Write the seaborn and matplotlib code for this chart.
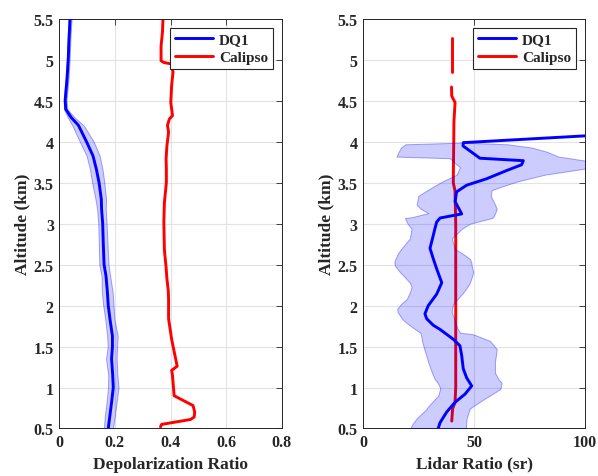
import numpy as np
import pandas as pd
import seaborn as sns
import matplotlib
matplotlib.use("Agg")
import matplotlib.pyplot as plt

# ---------------- data ----------------
# Left panel: depolarization ratio
dq1_dep_alt = [5.5, 5.26, 5.0, 4.76, 4.51, 4.4, 4.3, 4.2, 4.0, 3.83, 3.67, 3.5, 3.3, 3.18, 3.0,
               2.77, 2.5, 2.36, 2.16, 2.0, 1.84, 1.63, 1.5, 1.35, 1.15, 1.0, 0.82, 0.66, 0.5]
dq1_dep_val = [0.0385, 0.035, 0.032, 0.0276, 0.0211, 0.023, 0.042, 0.069, 0.098, 0.121, 0.133, 0.143, 0.151, 0.152, 0.156,
               0.158, 0.161, 0.168, 0.173, 0.176, 0.182, 0.191, 0.191, 0.188, 0.192, 0.194, 0.188, 0.182, 0.176]
dq1_dep_low = [0.033, 0.030, 0.027, 0.022, 0.016, 0.017, 0.030, 0.047, 0.074, 0.098, 0.110, 0.118, 0.130, 0.136, 0.140,
               0.142, 0.144, 0.152, 0.153, 0.158, 0.165, 0.172, 0.174, 0.168, 0.176, 0.175, 0.170, 0.164, 0.160]
dq1_dep_high = [0.044, 0.040, 0.037, 0.033, 0.026, 0.029, 0.054, 0.088, 0.124, 0.145, 0.155, 0.162, 0.168, 0.167, 0.170,
                0.173, 0.177, 0.183, 0.192, 0.195, 0.198, 0.210, 0.208, 0.206, 0.209, 0.213, 0.206, 0.200, 0.193]

cal_dep_alt = [5.5, 5.34, 5.17, 4.99, 4.97, 4.95, 4.85, 4.69, 4.48, 4.32, 4.28, 4.2, 4.12, 3.95, 3.79, 3.67,
               3.5, 3.26, 3.02, 2.68, 2.47, 2.33, 2.18, 2.08, 1.84, 1.59, 1.39, 1.26, 1.21, 1.15, 0.9,
               0.78, 0.70, 0.64, 0.61, 0.55, 0.52]
cal_dep_val = [0.373, 0.371, 0.366, 0.366, 0.375, 0.404, 0.409, 0.404, 0.401, 0.407, 0.396, 0.389, 0.393, 0.387, 0.384, 0.385,
               0.385, 0.378, 0.376, 0.378, 0.384, 0.387, 0.392, 0.393, 0.393, 0.404, 0.416, 0.424, 0.404, 0.407, 0.413,
               0.481, 0.487, 0.485, 0.472, 0.368, 0.364]

# Right panel: lidar ratio
dq1_lr_alt = [4.1, 3.99, 3.95, 3.83, 3.80, 3.77, 3.72, 3.65, 3.55, 3.47, 3.39, 3.27, 3.12, 3.07, 3.02, 2.94,
              2.85, 2.70, 2.57, 2.45, 2.28, 2.14, 2.0, 1.9, 1.84, 1.76, 1.71, 1.59, 1.51, 1.39, 1.23, 1.12,
              1.02, 0.92, 0.82, 0.70, 0.57, 0.5]
dq1_lr_val = [118, 45.1, 45.0, 51.1, 52.6, 72.2, 71.4, 64.7, 55.7, 46.6, 42.1, 41.4, 44.4, 34.6, 33.1, 32.3,
              31.5, 30.1, 31.6, 33.1, 35.4, 33.1, 29.3, 27.8, 28.6, 31.6, 34.6, 40.6, 43.6, 44.4, 45.1, 46.6,
              48.9, 45.9, 41.4, 37.6, 34.6, 33.8]

band_lr_alt = [3.99, 3.97, 3.93, 3.88, 3.82, 3.80, 3.75, 3.69, 3.6, 3.52, 3.46, 3.41, 3.34, 3.23, 3.18, 3.13,
               3.08, 3.07, 3.0, 2.94, 2.82, 2.69, 2.63, 2.57, 2.53, 2.49, 2.41, 2.37, 2.28, 2.23, 2.16, 2.08,
               2.02, 1.96, 1.92, 1.84, 1.8, 1.72, 1.67, 1.65, 1.57, 1.47, 1.31, 1.18, 1.1, 1.06, 1.0, 0.98,
               0.9, 0.88, 0.76, 0.74, 0.62, 0.57, 0.5]
band_lr_low = [44.5, 19.0, 17.0, 16.0, 15.0, 39.0, 41.0, 43.6, 42.1, 36.0, 32.0, 29.0, 24.8, 24.1, 26.0, 29.3,
               22.0, 18.8, 20.0, 21.8, 21.0, 17.0, 15.5, 14.5, 14.0, 14.2, 16.5, 18.0, 21.0, 21.8, 21.0, 19.6,
               17.0, 15.3, 15.5, 17.5, 19.0, 23.0, 25.6, 26.0, 26.5, 27.5, 29.3, 31.0, 32.3, 33.5, 34.6, 34.6,
               33.8, 33.0, 29.0, 28.6, 24.0, 22.6, 21.1]
band_lr_high = [45.5, 65.0, 76.0, 82.7, 88.0, 93.0, 105.0, 104.0, 82.0, 70.0, 63.1, 57.9, 57.5, 59.5, 60.2, 59.5,
                58.6, 58.0, 48.1, 44.5, 39.9, 41.4, 45.1, 48.1, 48.7, 48.9, 49.6, 49.2, 48.1, 47.0, 45.1, 42.5,
                40.6, 40.0, 39.9, 41.0, 41.4, 42.5, 43.6, 49.6, 57.1, 60.2, 59.4, 59.4, 61.0, 62.4, 62.0, 61.7,
                57.0, 55.7, 48.9, 48.0, 46.6, 46.4, 46.3]

cal_lr_top_alt = [5.27, 4.85]
cal_lr_top_val = [39.8, 39.8]
cal_lr_alt = [4.67, 4.56, 4.48, 4.25, 3.5, 3.4, 3.0, 2.0, 1.0, 0.82, 0.74, 0.59]
cal_lr_val = [39.8, 39.9, 41.4, 40.9, 40.6, 41.4, 41.7, 41.7, 41.7, 41.4, 40.3, 39.9]

yticks = [0.5, 1, 1.5, 2, 2.5, 3, 3.5, 4, 4.5, 5, 5.5]
yticklabels = ["0.5", "1", "1.5", "2", "2.5", "3", "3.5", "4", "4.5", "5", "5.5"]
dep_ticks = [0, 0.2, 0.4, 0.6, 0.8]
dep_ticklabels = ["0", "0.2", "0.4", "0.6", "0.8"]
lr_ticks = [0, 50, 100]
lr_ticklabels = ["0", "50", "100"]

# ---------------- style ----------------
sns.set_style("white")
plt.rcParams["font.family"] = ["Liberation Serif", "DejaVu Serif"]
plt.rcParams["font.weight"] = "bold"

DARK = "#262626"
fig = plt.figure(figsize=(5.98, 4.77), dpi=100)
ax1 = fig.add_axes([0.0992, 0.0996, 0.3719, 0.8585])
ax2 = fig.add_axes([0.6075, 0.0996, 0.3707, 0.8585])

BAND = dict(facecolor=(0.0, 0.0, 1.0, 0.2), edgecolor=(0.0, 0.0, 1.0, 0.35), linewidth=0.7, zorder=3)
LW = 2.1

# Left panel
sns.lineplot(x=cal_dep_val, y=cal_dep_alt, orient="y", sort=False, estimator=None,
             color="red", linewidth=LW, ax=ax1, zorder=2, label="Calipso")
ax1.fill_betweenx(dq1_dep_alt, dq1_dep_low, dq1_dep_high, **BAND)
sns.lineplot(x=dq1_dep_val, y=dq1_dep_alt, orient="y", sort=False, estimator=None,
             color="blue", linewidth=LW, ax=ax1, zorder=4, label="DQ1")

# Right panel
sns.lineplot(x=cal_lr_val, y=cal_lr_alt, orient="y", sort=False, estimator=None,
             color="red", linewidth=LW, ax=ax2, zorder=2, label="Calipso")
sns.lineplot(x=cal_lr_top_val, y=cal_lr_top_alt, orient="y", sort=False, estimator=None,
             color="red", linewidth=LW, ax=ax2, zorder=2)
ax2.fill_betweenx(band_lr_alt, band_lr_low, band_lr_high, **BAND)
sns.lineplot(x=dq1_lr_val, y=dq1_lr_alt, orient="y", sort=False, estimator=None,
             color="blue", linewidth=LW, ax=ax2, zorder=4, label="DQ1")

for ax, xt, xtl, xlim, xlabel in [
    (ax1, dep_ticks, dep_ticklabels, (0, 0.8), "Depolarization Ratio"),
    (ax2, lr_ticks, lr_ticklabels, (0, 100), "Lidar Ratio (sr)"),
]:
    ax.set_xlim(*xlim)
    ax.set_ylim(0.5, 5.5)
    ax.set_xticks(xt)
    ax.set_xticklabels(xtl)
    ax.set_yticks(yticks)
    ax.set_yticklabels(yticklabels)
    ax.grid(True, color="#e3e3e3", linewidth=0.8)
    ax.set_axisbelow(True)
    ax.tick_params(direction="in", length=4, width=0.6, colors=DARK, labelsize=11.5,
                   top=True, right=True, pad=4)
    for lab in ax.get_xticklabels() + ax.get_yticklabels():
        lab.set_fontweight("bold")
    for s in ax.spines.values():
        s.set_color(DARK)
        s.set_linewidth(0.7)
        s.set_visible(True)
    ax.set_xlabel(xlabel, fontsize=12.5, fontweight="bold", color=DARK, labelpad=4)
    ax.set_ylabel("Altitude (km)", fontsize=12.5, fontweight="bold", color=DARK, labelpad=2)
    handles, labels = ax.get_legend_handles_labels()
    order = [labels.index("DQ1"), labels.index("Calipso")]
    leg = ax.legend([handles[i] for i in order], [labels[i] for i in order],
                    loc="upper right", fancybox=False, framealpha=1, edgecolor=DARK,
                    prop={"weight": "bold", "size": 11}, handlelength=2.5,
                    borderaxespad=0.6, labelspacing=0.25, borderpad=0.3, handletextpad=0.4)
    leg.get_frame().set_linewidth(0.8)

fig.savefig("out.png", dpi=100)
